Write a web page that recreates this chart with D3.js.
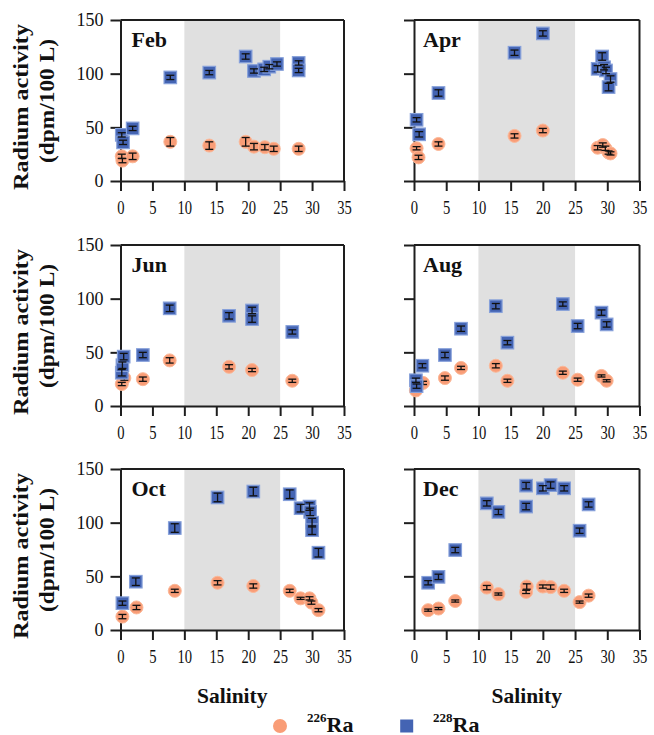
<!DOCTYPE html>
<html>
<head>
<meta charset="utf-8">
<script src="https://cdn.jsdelivr.net/npm/d3@7/dist/d3.min.js"></script>
<style>
  html, body { margin: 0; padding: 0; background: #ffffff; }
  svg { display: block; }
</style>
</head>
<body>
<svg id="chart" width="654" height="735" font-family="Liberation Serif, Times New Roman, serif"></svg>
<script>
// Salinity ticks and radium activity ticks
const salinityTicks = [0, 5, 10, 15, 20, 25, 30, 35];
const activityTicks = [0, 50, 100, 150];
const mixingZone = [10, 25];
const months = ["Feb", "Apr", "Jun", "Aug", "Oct", "Dec"];

// Each point: [salinity, activity (dpm/100 L), uncertainty]
const feb226 = [[0.2,23,2],[0.3,19,2],[1.9,23,3],[7.8,36.5,4],[13.9,33,3.5],[19.6,36.5,4],[20.9,32,3],[22.6,31.5,2.5],[24,30,2.5],[27.9,30,2.5]];
const feb228 = [[0.2,43,2],[0.4,36,2],[1.9,49,2],[7.8,96.5,2],[13.9,101,2],[19.6,116,2.5],[20.9,102.5,2],[22.5,104,2],[23.3,106.5,2],[24.5,109,2],[27.9,110,2],[27.9,103,2]];
const apr226 = [[0.4,30.5,1.5],[0.7,22,2],[3.8,34.5,2],[15.6,42,2],[20,47,2],[28.5,31,2],[29.3,33.5,2],[29.7,30.5,2],[30.2,26.5,1.5],[30.5,25.7,1.5]];
const apr228 = [[0.4,57,2],[0.8,43.5,2.5],[3.8,82,3],[15.6,119.5,2.5],[20,137.5,2.5],[28.5,104.5,3],[29.2,116,3.5],[29.5,106,2.5],[29.8,103,3],[30.5,95,3],[30.2,87.5,3.5]];
const jun226 = [[0.2,20.5,1.5],[0.6,26,2],[3.5,25,2],[7.7,42.5,2.5],[17,36.5,2],[20.6,33.5,1.5],[26.9,23.5,1.5]];
const jun228 = [[0.2,31,3],[0.3,38,3],[0.5,46,3],[3.5,47.5,2.5],[7.7,91,3],[17,84,3],[20.6,89,3],[20.6,81,3],[26.9,69,2]];
const aug226 = [[0.3,14.5,1.5],[1.4,21.5,1.5],[4.8,26,2],[7.3,35.5,1.5],[12.7,37.5,2],[14.5,23.5,1.5],[23.1,31,1.5],[25.4,24.5,1.5],[29.1,28,1],[29.9,23.5,1]];
const aug228 = [[0.3,24,2],[0.4,18.5,2],[1.3,37.5,2],[4.8,47.5,2.5],[7.3,72,2.5],[12.7,93,2.5],[14.5,59,2],[23.1,95,2],[25.4,74.5,2.5],[29.1,87,2.5],[29.9,76,2.5]];
const oct226 = [[0.3,12.5,2],[2.5,21,2],[8.5,36.5,1.5],[15.2,44,2],[20.8,41,2],[26.5,36.5,1.5],[28.2,29.5,1],[29.6,29.5,1.5],[29.9,25.5,1.5],[31,18.5,1.5]];
const oct228 = [[0.3,25,2],[2.4,45,3.5],[8.5,95,4],[15.2,123.5,4],[20.8,129,4],[26.5,126.5,4],[28.2,113.5,3.5],[29.6,115,3.5],[29.7,110,3.5],[30,100,4],[30,93,4],[31,72,4]];
const dec226 = [[2.2,18.5,1],[3.8,20,1],[6.4,27,1],[11.3,39.5,2],[13.1,33.5,1],[17.4,35.5,1.5],[17.5,40.5,2.5],[20,40.5,1.5],[21.2,40,2],[23.3,36.5,1.5],[25.7,26,1],[27.1,32,1.5]];
const dec228 = [[2.2,44,2],[3.8,49.5,2.5],[6.4,74.5,2.5],[11.3,118,2.5],[13.1,110,2.5],[17.4,134.5,3],[17.4,115,3],[20,132,2.5],[21.2,135,3],[23.3,132,2.5],[25.7,92.5,2.5],[27.1,117,2.5]];

const ra226 = [feb226, apr226, jun226, aug226, oct226, dec226];
const ra228 = [feb228, apr228, jun228, aug228, oct228, dec228];

const serif = "Liberation Serif, Times New Roman, serif";
const colors = {
  ra226: "#f99d77", ra226Edge: "#fbb898",
  ra228: "#4464b3", ra228Edge: "#86a0da",
  shade: "#e0e0e0", axis: "#1e1e1e"
};

const svg = d3.select("#chart");

// panel layout: two columns, three rows
const colX = [[120.5, 344], [414, 639.5]];
const rowY = [[20, 181], [245, 406], [469, 630]];

months.forEach((m, i) => {
  const col = i % 2, row = Math.floor(i / 2);
  const x = d3.scaleLinear().domain([0, 35]).range(colX[col]);
  const y = d3.scaleLinear().domain([0, 150]).range([rowY[row][1], rowY[row][0]]);
  const g = svg.append("g");

  // estuarine mixing zone
  g.append("rect")
    .attr("x", x(mixingZone[0])).attr("y", y(150))
    .attr("width", x(mixingZone[1]) - x(mixingZone[0]))
    .attr("height", y(0) - y(150))
    .attr("fill", colors.shade);

  // frame: top and right borders
  g.append("line").attr("x1", x(0)).attr("x2", x(35)).attr("y1", y(150)).attr("y2", y(150))
    .attr("stroke", colors.axis).attr("stroke-width", 2);
  g.append("line").attr("x1", x(35)).attr("x2", x(35)).attr("y1", y(150)).attr("y2", y(0))
    .attr("stroke", colors.axis).attr("stroke-width", 2);

  // x axis
  const xa = g.append("g").attr("transform", `translate(0,${y(0)})`)
    .call(d3.axisBottom(x).tickValues(salinityTicks).tickSize(10).tickSizeOuter(0));
  xa.attr("font-family", serif).attr("font-size", 18);
  xa.selectAll("path, line").attr("stroke", colors.axis).attr("stroke-width", 2);
  xa.selectAll("text")
    .attr("y", 33).attr("dy", 0)
    .attr("transform", "scale(0.81,1)")
    .attr("fill", "#111")
    .attr("font-family", serif)
    .attr("font-size", 18);

  // y axis (labels on the left column only)
  const ya = g.append("g").attr("transform", `translate(${x(0)},0)`)
    .call(d3.axisLeft(y).tickValues(activityTicks).tickSize(10).tickSizeOuter(0)
      .tickFormat(col === 0 ? d3.format("d") : () => ""));
  ya.attr("font-family", serif).attr("font-size", 18);
  ya.selectAll("path, line").attr("stroke", colors.axis).attr("stroke-width", 2);
  ya.selectAll("text")
    .attr("x", -17)
    .attr("fill", "#111")
    .attr("font-family", serif)
    .attr("font-size", 18);

  // month label
  g.append("text")
    .attr("x", x(0) + (col === 0 ? 11 : 9))
    .attr("y", y(150) + 27)
    .attr("font-family", serif)
    .attr("font-size", 22).attr("font-weight", "bold").attr("fill", "#111")
    .text(m);

  const errorBars = (data) => {
    const eb = g.append("g").attr("stroke", "#111").attr("stroke-width", 1.3);
    data.forEach(d => {
      const cx = x(d[0]);
      eb.append("line").attr("x1", cx).attr("x2", cx).attr("y1", y(d[1] - d[2])).attr("y2", y(d[1] + d[2]));
      eb.append("line").attr("x1", cx - 4).attr("x2", cx + 4).attr("y1", y(d[1] - d[2])).attr("y2", y(d[1] - d[2]));
      eb.append("line").attr("x1", cx - 4).attr("x2", cx + 4).attr("y1", y(d[1] + d[2])).attr("y2", y(d[1] + d[2]));
    });
  };

  // 226Ra circles
  g.append("g").selectAll("circle").data(ra226[i]).join("circle")
    .attr("cx", d => x(d[0])).attr("cy", d => y(d[1])).attr("r", 6.5)
    .attr("fill", colors.ra226).attr("stroke", colors.ra226Edge).attr("stroke-width", 1);
  errorBars(ra226[i]);

  // 228Ra squares
  g.append("g").selectAll("rect").data(ra228[i]).join("rect")
    .attr("x", d => x(d[0]) - 6.25).attr("y", d => y(d[1]) - 6.25)
    .attr("width", 12.5).attr("height", 12.5)
    .attr("fill", colors.ra228).attr("stroke", colors.ra228Edge).attr("stroke-width", 1.2);
  errorBars(ra228[i]);
});

// y-axis titles for each row
rowY.forEach(r => {
  const cy = (r[0] + r[1]) / 2;
  svg.append("text")
    .attr("transform", `translate(28,${cy + 6.5}) rotate(-90)`)
    .attr("text-anchor", "middle").attr("font-family", serif)
    .attr("font-size", 20).attr("font-weight", "bold").attr("fill", "#111")
    .attr("textLength", 166).attr("lengthAdjust", "spacingAndGlyphs")
    .text("Radium activity");
  svg.append("text")
    .attr("transform", `translate(54,${cy + 0.5}) rotate(-90)`)
    .attr("text-anchor", "middle").attr("font-family", serif)
    .attr("font-size", 20).attr("font-weight", "bold").attr("fill", "#111")
    .attr("textLength", 124).attr("lengthAdjust", "spacingAndGlyphs")
    .text("(dpm/100 L)");
});

// x-axis titles
colX.forEach(c => {
  svg.append("text")
    .attr("x", (c[0] + c[1]) / 2).attr("y", 703)
    .attr("text-anchor", "middle").attr("font-family", serif)
    .attr("font-size", 21.5).attr("font-weight", "bold").attr("fill", "#111")
    .text("Salinity");
});

// legend
const legend = svg.append("g").attr("font-family", serif);
legend.append("circle").attr("cx", 280).attr("cy", 726).attr("r", 7).attr("fill", colors.ra226);
const t1 = legend.append("text").attr("x", 307).attr("y", 731.5)
  .attr("font-family", serif).attr("font-weight", "bold").attr("fill", "#111");
t1.append("tspan").attr("font-size", 13).attr("dy", -9.5).text("226");
t1.append("tspan").attr("font-size", 22).attr("dy", 9.5).text("Ra");
legend.append("rect").attr("x", 400.2).attr("y", 719.5).attr("width", 13).attr("height", 13).attr("fill", colors.ra228);
const t2 = legend.append("text").attr("x", 433).attr("y", 731.5)
  .attr("font-family", serif).attr("font-weight", "bold").attr("fill", "#111");
t2.append("tspan").attr("font-size", 13).attr("dy", -9.5).text("228");
t2.append("tspan").attr("font-size", 22).attr("dy", 9.5).text("Ra");
</script>
</body>
</html>
